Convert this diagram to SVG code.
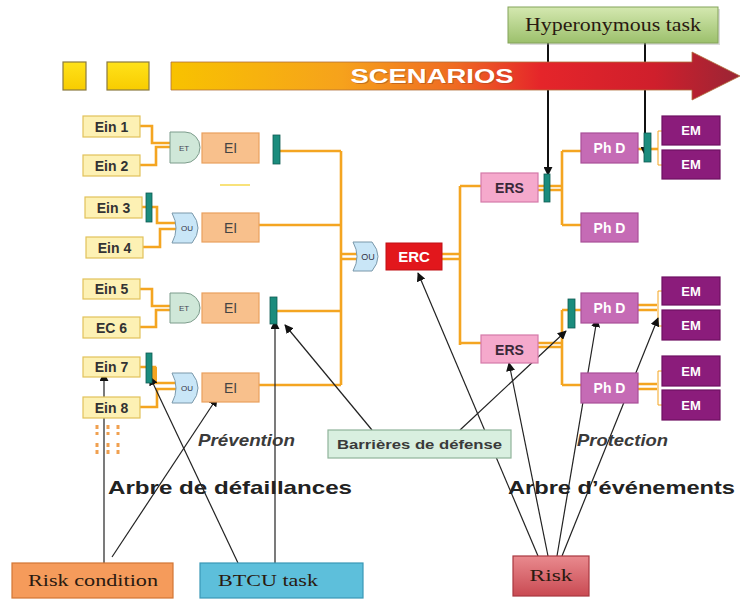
<svg xmlns="http://www.w3.org/2000/svg" width="740" height="600" viewBox="0 0 740 600">
<defs>
<linearGradient id="scen" gradientUnits="userSpaceOnUse" x1="171" y1="0" x2="740" y2="0">
<stop offset="0" stop-color="#f8c200"/>
<stop offset="0.3" stop-color="#f6a21c"/>
<stop offset="0.5" stop-color="#ef6a22"/>
<stop offset="0.65" stop-color="#e5252a"/>
<stop offset="0.85" stop-color="#cf1f2c"/>
<stop offset="1" stop-color="#9a2535"/>
</linearGradient>
<linearGradient id="hyp" x1="0" y1="0" x2="0" y2="1">
<stop offset="0" stop-color="#d4e8b0"/>
<stop offset="1" stop-color="#9cc06c"/>
</linearGradient>
<linearGradient id="risk" x1="0" y1="0" x2="0" y2="1">
<stop offset="0" stop-color="#e98a8e"/>
<stop offset="1" stop-color="#c94a52"/>
</linearGradient>
<linearGradient id="yel" x1="0" y1="0" x2="0" y2="1">
<stop offset="0" stop-color="#ffe21a"/>
<stop offset="1" stop-color="#f8cc00"/>
</linearGradient>
<marker id="ah" viewBox="0 0 10 10" refX="9" refY="5" markerWidth="9" markerHeight="9" markerUnits="userSpaceOnUse" orient="auto">
<path d="M0,0 L10,5 L0,10 Z" fill="#111"/>
</marker>
<style>
.ein{fill:#fdf1b4;stroke:#e2c25a;stroke-width:1.2}
.ei{fill:#f8c08c;stroke:#e9a05e;stroke-width:1.2}
.et{fill:#cfe7d8;stroke:#7d9c8c;stroke-width:1}
.ou{fill:#c9e6f7;stroke:#7a98aa;stroke-width:1}
.bar{fill:#1b8c7d;stroke:#0e5b52;stroke-width:0.8}
.ers{fill:#f5a9cc;stroke:#d47aa8;stroke-width:1.2}
.phd{fill:#c56bb5;stroke:#a84f98;stroke-width:1.2}
.em{fill:#8b1c7b;stroke:#6e1062;stroke-width:1.2}
.t{font-family:"Liberation Sans",Arial,sans-serif;text-anchor:middle}
.tb{font-family:"Liberation Sans",Arial,sans-serif;font-weight:bold;text-anchor:middle}
.ts{font-family:"Liberation Serif","Times New Roman",serif;text-anchor:middle;fill:#2a1a10}
.or{fill:none;stroke:#f4a521;stroke-width:2.6}
.ort{fill:none;stroke:#f4a521;stroke-width:1}
.ar{fill:none;stroke:#222;stroke-width:1.2;marker-end:url(#ah)}
.arh{fill:none;stroke:#111;stroke-width:2;marker-end:url(#ah)}
.lab{font-family:"Liberation Sans",Arial,sans-serif;font-style:italic;font-weight:bold;font-size:17px;fill:#3a3a3a}
.big{font-family:"Liberation Sans",Arial,sans-serif;font-weight:bold;font-size:19px;fill:#222}
</style>
</defs>
<rect width="740" height="600" fill="#ffffff"/>

<g id="connectors">
<!-- orange fault-tree / event-tree links -->
<path class="or" d="M140,126 H152 V143 H172"/>
<path class="or" d="M140,165 H156 V147 H172"/>
<path class="or" d="M280,151 H341"/>
<path class="or" d="M142,207 H157 V223 H176"/>
<path class="or" d="M143,247 H160 V229 H176"/>
<path class="or" d="M259,225 H341"/>
<path class="or" d="M140,289 H152 V306 H172"/>
<path class="or" d="M140,327 H156 V310 H172"/>
<path class="or" d="M277,311 H341"/>
<path class="or" d="M140,367 H155 V383 H176"/>
<path class="or" d="M140,407 H157 V389 H176"/>
<path class="or" d="M259,385 H341"/>
<path class="or" d="M341,151 V385"/>
<path class="or" d="M341,254 H357 M341,259 H357"/>
<path class="or" d="M442,254 H460 M442,259 H460"/>
<path class="or" d="M460,186 V345"/>
<path class="or" d="M460,186 H481 M460,343 H481"/>
<path class="or" d="M538,186 H562 M538,190 H562"/>
<path class="or" d="M562,151 V225 M562,151 H581 M562,225 H581"/>
<path class="or" d="M638,149 H658"/>
<path class="ort" d="M658,131 V165 M658,131 H662 M658,165 H662"/>
<path class="or" d="M538,343 H562 M538,347 H562"/>
<path class="or" d="M562,310 V385 M562,310 H581 M562,385 H581"/>
<path class="or" d="M638,305 H657 M638,310 H657"/>
<path class="ort" d="M658,291 V326 M658,291 H662 M658,326 H662"/>
<path class="or" d="M638,384 H657 M638,389 H657"/>
<path class="ort" d="M658,371 V405 M658,371 H662 M658,405 H662"/>
<rect x="152" y="367" width="5" height="16" fill="#f4a521"/>
<path d="M220,185 H250" stroke="#f8e27a" stroke-width="2"/>
<path d="M97,425 V435 M108,425 V435 M118,425 V435 M97,443 V455 M108,443 V455 M118,443 V455" stroke="#f0a050" stroke-width="3" stroke-dasharray="4,3"/>
<!-- annotation arrows -->
<path class="arh" d="M548,43 V175"/>
<path class="arh" d="M645,43 V155"/>
<path class="ar" d="M104,563 V373"/>
<path class="ar" d="M112,557 L217,398"/>
<path class="ar" d="M238,563 L150,377"/>
<path class="ar" d="M275,563 V321"/>
<path class="ar" d="M372,430 L285,325"/>
<path class="ar" d="M460,430 L566,331"/>
<path class="ar" d="M538,556 L418,273"/>
<path class="ar" d="M548,556 L509,363"/>
<path class="ar" d="M557,556 L597,319"/>
<path class="ar" d="M562,556 L658,318"/>
</g>

<g id="scenarios">
<rect x="63" y="62" width="23" height="28" fill="url(#yel)" stroke="#8a7a40" stroke-width="1.2"/>
<rect x="107" y="62" width="42" height="28" fill="url(#yel)" stroke="#8a7a40" stroke-width="1.2"/>
<path d="M171,62 H692 V52 L740,76 L692,100 V90 H171 Z" fill="url(#scen)" stroke="#b0703a" stroke-width="0.8"/>
<text class="tb" x="433" y="84" font-size="20" fill="#9a4a20" opacity="0.5" textLength="163" lengthAdjust="spacingAndGlyphs">SCENARIOS</text>
<text class="tb" x="432" y="83" font-size="20" fill="#ffffff" textLength="163" lengthAdjust="spacingAndGlyphs">SCENARIOS</text>
</g>

<g id="hyperonymous">
<rect x="510" y="9" width="210" height="36" fill="#9a9a9a" opacity="0.35"/>
<rect x="508" y="7" width="210" height="36" fill="url(#hyp)" stroke="#84a35a" stroke-width="1"/>
<text class="ts" x="613" y="31" font-size="18" textLength="176" lengthAdjust="spacingAndGlyphs">Hyperonymous task</text>
</g>

<g id="ein1"><rect class="ein" x="83" y="116" width="57" height="21"/><text class="tb" x="111.5" y="131.5" font-size="14" fill="#333">Ein 1</text></g>
<g id="ein2"><rect class="ein" x="83" y="155" width="57" height="21"/><text class="tb" x="111.5" y="170.5" font-size="14" fill="#333">Ein 2</text></g>
<g id="ein3"><rect class="ein" x="85" y="197" width="57" height="21"/><text class="tb" x="113.5" y="212.5" font-size="14" fill="#333">Ein 3</text></g>
<g id="ein4"><rect class="ein" x="86" y="237" width="57" height="21"/><text class="tb" x="114.5" y="252.5" font-size="14" fill="#333">Ein 4</text></g>
<g id="ein5"><rect class="ein" x="83" y="279" width="57" height="20"/><text class="tb" x="111.5" y="294" font-size="14" fill="#333">Ein 5</text></g>
<g id="ec6"><rect class="ein" x="83" y="317" width="57" height="21"/><text class="tb" x="111.5" y="332.5" font-size="14" fill="#333">EC 6</text></g>
<g id="ein7"><rect class="ein" x="83" y="357" width="57" height="20"/><text class="tb" x="111.5" y="372" font-size="14" fill="#333">Ein 7</text></g>
<g id="ein8"><rect class="ein" x="83" y="397" width="57" height="21"/><text class="tb" x="111.5" y="412.5" font-size="14" fill="#333">Ein 8</text></g>

<g id="gate1"><path class="et" d="M170,132 H185 A15,15.5 0 0 1 185,163 H170 Z"/><text class="t" x="184" y="150.5" font-size="8" fill="#445">ET</text></g>
<g id="gate2"><path class="ou" d="M172,213 H192 Q204,228 192,243 H172 Q180,228 172,213 Z"/><text class="t" x="187" y="231" font-size="8" fill="#334">OU</text></g>
<g id="gate3"><path class="et" d="M170,293 H185 A15,15 0 0 1 185,323 H170 Z"/><text class="t" x="184" y="311" font-size="8" fill="#445">ET</text></g>
<g id="gate4"><path class="ou" d="M172,373 H192 Q204,388 192,403 H172 Q180,388 172,373 Z"/><text class="t" x="187" y="391" font-size="8" fill="#334">OU</text></g>
<g id="gate-erc"><path class="ou" d="M353,242 H372 Q384,256.5 372,271 H353 Q361,256.5 353,242 Z"/><text class="t" x="368" y="260" font-size="9" fill="#334">OU</text></g>

<g id="ei1"><rect class="ei" x="202" y="133" width="57" height="30"/><text class="t" x="230.5" y="153" font-size="14" fill="#444">EI</text></g>
<g id="ei2"><rect class="ei" x="202" y="213" width="57" height="29"/><text class="t" x="230.5" y="232.5" font-size="14" fill="#444">EI</text></g>
<g id="ei3"><rect class="ei" x="202" y="293" width="57" height="30"/><text class="t" x="230.5" y="313" font-size="14" fill="#444">EI</text></g>
<g id="ei4"><rect class="ei" x="202" y="373" width="57" height="29"/><text class="t" x="230.5" y="392.5" font-size="14" fill="#444">EI</text></g>

<g id="barrier1"><rect class="bar" x="273" y="135" width="7" height="29"/></g>
<g id="barrier2"><rect class="bar" x="146" y="193" width="6" height="29"/></g>
<g id="barrier3"><rect class="bar" x="270" y="297" width="7" height="27"/></g>
<g id="barrier4"><rect class="bar" x="146" y="353" width="6" height="30"/></g>
<g id="barrier5"><rect class="bar" x="544" y="174" width="6" height="28"/></g>
<g id="barrier6"><rect class="bar" x="644" y="133" width="7" height="29"/></g>
<g id="barrier7"><rect class="bar" x="568" y="299" width="7" height="29"/></g>

<g id="erc"><rect x="386" y="243" width="56" height="27" fill="#e2171c" stroke="#c01015" stroke-width="1"/><text class="tb" x="414" y="262" font-size="15" fill="#ffffff">ERC</text></g>

<g id="ers1"><rect class="ers" x="481" y="173" width="57" height="29"/><text class="tb" x="509.5" y="193" font-size="14" fill="#3a2838">ERS</text></g>
<g id="ers2"><rect class="ers" x="481" y="335" width="57" height="28"/><text class="tb" x="509.5" y="354.5" font-size="14" fill="#3a2838">ERS</text></g>

<g id="phd1"><rect class="phd" x="581" y="133" width="57" height="30"/><text class="tb" x="609.5" y="153" font-size="14" fill="#ffffff">Ph D</text></g>
<g id="phd2"><rect class="phd" x="581" y="213" width="57" height="29"/><text class="tb" x="609.5" y="232.5" font-size="14" fill="#ffffff">Ph D</text></g>
<g id="phd3"><rect class="phd" x="581" y="293" width="57" height="30"/><text class="tb" x="609.5" y="313" font-size="14" fill="#ffffff">Ph D</text></g>
<g id="phd4"><rect class="phd" x="581" y="373" width="57" height="30"/><text class="tb" x="609.5" y="393" font-size="14" fill="#ffffff">Ph D</text></g>

<g id="em1"><rect class="em" x="662" y="116" width="58" height="29"/><text class="tb" x="691" y="135" font-size="13" fill="#ffffff">EM</text></g>
<g id="em2"><rect class="em" x="662" y="150" width="58" height="29"/><text class="tb" x="691" y="169" font-size="13" fill="#ffffff">EM</text></g>
<g id="em3"><rect class="em" x="662" y="277" width="58" height="28"/><text class="tb" x="691" y="296" font-size="13" fill="#ffffff">EM</text></g>
<g id="em4"><rect class="em" x="662" y="310" width="58" height="30"/><text class="tb" x="691" y="330" font-size="13" fill="#ffffff">EM</text></g>
<g id="em5"><rect class="em" x="662" y="356" width="58" height="30"/><text class="tb" x="691" y="376" font-size="13" fill="#ffffff">EM</text></g>
<g id="em6"><rect class="em" x="662" y="390" width="58" height="30"/><text class="tb" x="691" y="410" font-size="13" fill="#ffffff">EM</text></g>

<g id="barrieres"><rect x="328" y="430" width="183" height="28" fill="#d9efe0" stroke="#8fb39a" stroke-width="1.2"/><text class="tb" x="419.5" y="449" font-size="13" fill="#3a3a3a" textLength="165" lengthAdjust="spacingAndGlyphs">Barrières de défense</text></g>

<g id="labels">
<text class="lab" x="198" y="446" textLength="97" lengthAdjust="spacingAndGlyphs">Prévention</text>
<text class="lab" x="577" y="446" textLength="91" lengthAdjust="spacingAndGlyphs">Protection</text>
<text class="big" x="108" y="494" textLength="244" lengthAdjust="spacingAndGlyphs">Arbre de défaillances</text>
<text class="big" x="508" y="494" textLength="227" lengthAdjust="spacingAndGlyphs">Arbre d’événements</text>
</g>

<g id="risk-condition"><rect x="12" y="563" width="161" height="35" fill="#f59b5b" stroke="#d27634" stroke-width="1.2"/><text class="ts" x="93" y="586" font-size="17" textLength="130" lengthAdjust="spacingAndGlyphs">Risk condition</text></g>
<g id="btcu-task"><rect x="200" y="563" width="163" height="35" fill="#5dbfdb" stroke="#3a98b6" stroke-width="1.2"/><text class="ts" x="268" y="586" font-size="17" fill="#10283a" textLength="100" lengthAdjust="spacingAndGlyphs">BTCU task</text></g>
<g id="risk-node"><rect x="513" y="556" width="76" height="40" fill="url(#risk)" stroke="#a83840" stroke-width="1.2"/><text class="ts" x="551" y="581" font-size="17" textLength="43" lengthAdjust="spacingAndGlyphs">Risk</text></g>
</svg>
